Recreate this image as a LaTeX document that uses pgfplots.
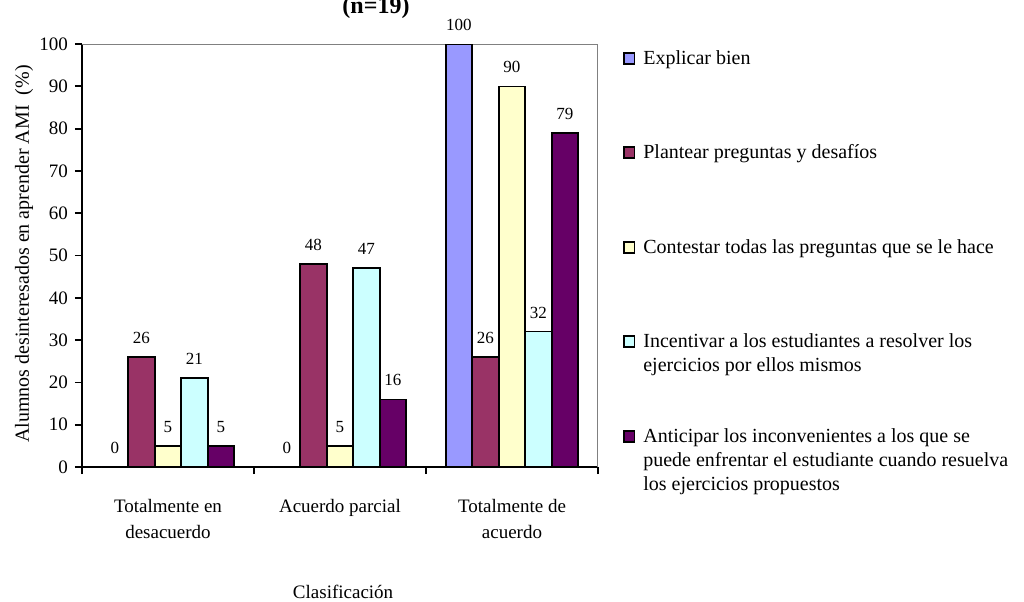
\documentclass[border=0pt]{standalone}
\usepackage{fontspec}
\setmainfont{Liberation Serif}
\usepackage{pgfplots}
\pgfplotsset{compat=1.18}

\definecolor{cBlue}{HTML}{9999FF}
\definecolor{cMaroon}{HTML}{993366}
\definecolor{cYellow}{HTML}{FFFFCC}
\definecolor{cCyan}{HTML}{CCFFFF}
\definecolor{cPurple}{HTML}{660066}

\pgfplotsset{
  sqleg/.style={legend image code/.code={%
      \draw[##1, draw=black, line width=0.9pt] (0pt,0.4pt) rectangle (5.2pt,5.8pt);}},
}

\newcommand{\legtext}[1]{\parbox[t]{200pt}{\fontsize{10}{12}\selectfont #1}}

\begin{document}
\begin{tikzpicture}
\path[use as bounding box] (0,0) rectangle (512pt,300.5pt);

\node[font=\bfseries\fontsize{12}{13}\selectfont, anchor=base] at (188pt,293.5pt) {(n=19)};

\begin{axis}[
  at={(41pt,67pt)}, anchor=south west,
  scale only axis, width=258pt, height=211.5pt,
  ybar=0pt, bar width=13.25pt,
  xmin=-0.5, xmax=2.5, ymin=0, ymax=100,
  xtick={0,1,2},
  xticklabels={Totalmente en\\desacuerdo, Acuerdo parcial, Totalmente de\\acuerdo},
  xticklabel style={align=center, font=\fontsize{9.5}{13}\selectfont, yshift=-9pt},
  minor xtick={-0.5,0.5,1.5,2.5},
  ytick={0,10,20,30,40,50,60,70,80,90,100},
  yticklabel style={font=\fontsize{9.5}{11}\selectfont},
  axis x line*=bottom, axis y line*=left,
  axis line style={line width=1.1pt, black},
  tick align=outside,
  major tick length=3.5pt, minor tick length=3.5pt,
  every tick/.style={black, line width=0.9pt},
  major x tick style={draw=none},
  xlabel={Clasificación},
  xlabel style={at={(axis description cs:0.506,-0.2955)}, anchor=center, font=\fontsize{9.5}{11}\selectfont},
  ylabel={Alumnos desinteresados en aprender AMI \ (\%)},
  ylabel style={at={(axis description cs:-0.1124,0.5035)}, anchor=center, font=\fontsize{10}{11}\selectfont},
  nodes near coords,
  nodes near coords style={font=\fontsize{8.5}{10}\selectfont, yshift=3pt},
  legend cell align=left,
  legend style={at={(axis description cs:1.048,0.9905)}, anchor=north west,
    draw=none, fill=none, inner sep=0pt, row sep=39.2pt, column sep=4pt,
    cells={anchor=base west},
    nodes={inner sep=0pt, text height=8pt, text depth=0pt}},
  /pgf/number format/assume math mode=true,
]
\draw[color=gray, line width=0.7pt] (rel axis cs:0,1) -- (rel axis cs:1,1) -- (rel axis cs:1,0);

\addplot[fill=cBlue, draw=black, line width=0.8pt, sqleg] coordinates {(0,0) (1,0) (2,100)};
\addlegendentry{\legtext{Explicar bien}}
\addplot[fill=cMaroon, draw=black, line width=0.8pt, sqleg] coordinates {(0,26) (1,48) (2,26)};
\addlegendentry{\legtext{Plantear preguntas y desafíos}}
\addplot[fill=cYellow, draw=black, line width=0.8pt, sqleg] coordinates {(0,5) (1,5) (2,90)};
\addlegendentry{\legtext{Contestar todas las preguntas que se le hace}}
\addplot[fill=cCyan, draw=black, line width=0.8pt, sqleg] coordinates {(0,21) (1,47) (2,32)};
\addlegendentry{\legtext{Incentivar a los estudiantes a resolver los\\ejercicios por ellos mismos}}
\addplot[fill=cPurple, draw=black, line width=0.8pt, sqleg] coordinates {(0,5) (1,16) (2,79)};
\addlegendentry{\legtext{Anticipar los inconvenientes a los que se\\puede enfrentar el estudiante cuando resuelva\\los ejercicios propuestos}}
\end{axis}
\end{tikzpicture}
\end{document}
